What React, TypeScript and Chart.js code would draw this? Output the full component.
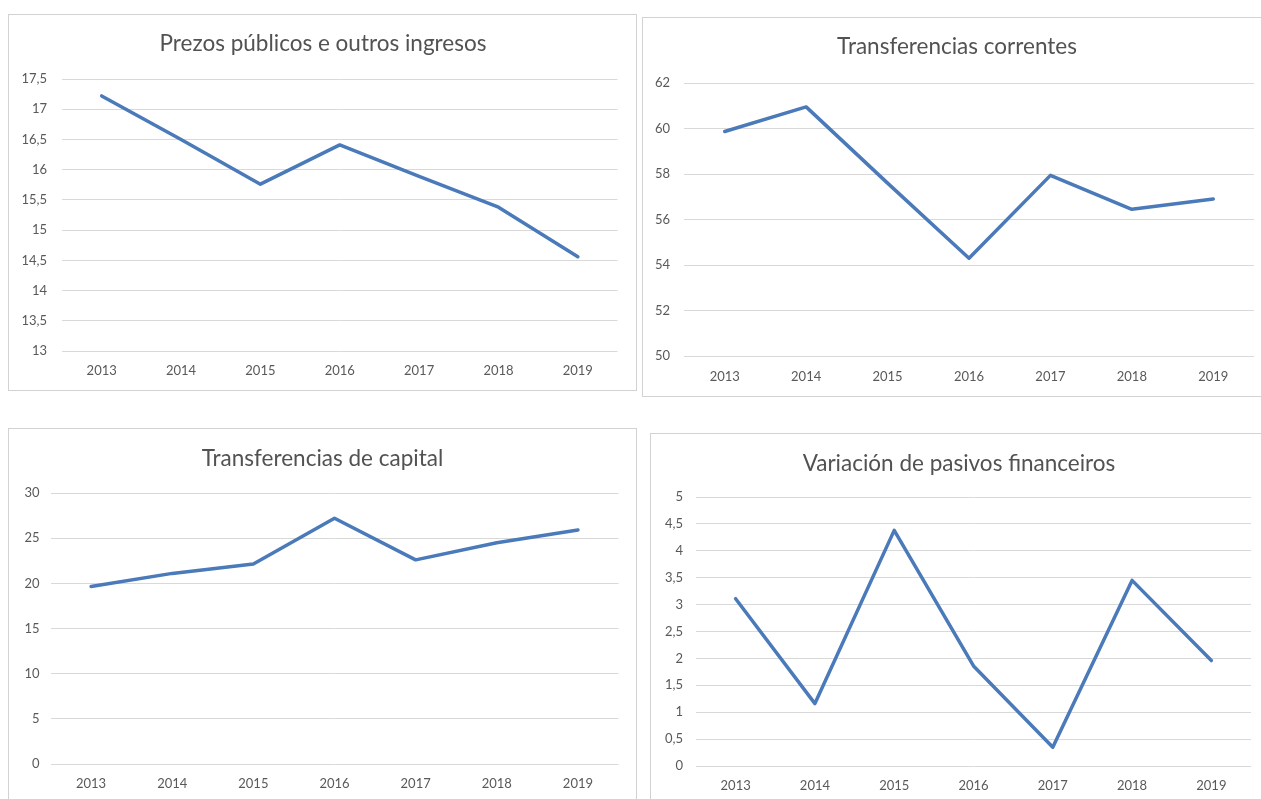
import React, { useEffect, useRef } from "react";
import { Chart, registerables } from "chart.js";

Chart.register(...registerables);

const years = ["2013", "2014", "2015", "2016", "2017", "2018", "2019"];

const prezosPublicos = [17.22, 16.5, 15.76, 16.41, 15.89, 15.38, 14.56];
const transferenciasCorrentes = [59.87, 60.95, 57.6, 54.3, 57.94, 56.45, 56.9];
const transferenciasCapital = [19.65, 21.1, 22.15, 27.2, 22.6, 24.5, 25.9];
const pasivosFinanceiros = [3.11, 1.16, 4.38, 1.86, 0.35, 3.45, 1.96];

const titles = [
  "Prezos públicos e outros ingresos",
  "Transferencias correntes",
  "Transferencias de capital",
  "Variación de pasivos financeiros",
];

const FONT = "Lato, 'Open Sans', sans-serif";
const LINE_COLOR = "#4a7ab9";
const GRID_COLOR = "#d9d9d9";
const TEXT_COLOR = "#595959";

type PanelSpec = {
  title: string;
  data: number[];
  min: number;
  max: number;
  step: number;
  L: number;
  T: number;
  W: number;
  H: number;
  padLeft: number;
  padRight: number;
  yWidth: number;
  y2Width: number;
  xHeight: number;
  titleTop: number;
  titleBottom: number;
  yPad: number;
  xPad: number;
};

const panels: PanelSpec[] = [
  { title: titles[0], data: prezosPublicos, min: 13, max: 17.5, step: 0.5,
    L: 8, T: 14, W: 629, H: 377, padLeft: 2, padRight: 1, yWidth: 52, y2Width: 18.5, xHeight: 40,
    titleTop: 16.5, titleBottom: 21.5, yPad: 15, xPad: 12 },
  { title: titles[1], data: transferenciasCorrentes, min: 50, max: 62, step: 2,
    L: 642, T: 17, W: 630, H: 380, padLeft: 2, padRight: 2, yWidth: 40, y2Width: 16, xHeight: 41,
    titleTop: 16.5, titleBottom: 22.5, yPad: 14, xPad: 13 },
  { title: titles[2], data: transferenciasCapital, min: 0, max: 30, step: 5,
    L: 8, T: 428, W: 629, H: 380, padLeft: 2, padRight: 2, yWidth: 40.5, y2Width: 16.5, xHeight: 44,
    titleTop: 17.5, titleBottom: 20.5, yPad: 11, xPad: 12 },
  { title: titles[3], data: pasivosFinanceiros, min: 0, max: 5, step: 0.5,
    L: 650, T: 433, W: 620, H: 380, padLeft: 2, padRight: 4, yWidth: 44, y2Width: 15, xHeight: 47,
    titleTop: 17.5, titleBottom: 19.5, yPad: 13, xPad: 12 },
];

function Panel({ spec }: { spec: PanelSpec }) {
  const ref = useRef<HTMLCanvasElement | null>(null);
  useEffect(() => {
    if (!ref.current) return;
    const chart = new Chart(ref.current, {
      type: "line",
      data: {
        labels: years,
        datasets: [
          {
            data: spec.data,
            borderColor: LINE_COLOR,
            borderWidth: 3.5,
            pointRadius: 0,
            tension: 0,
            fill: false,
            borderCapStyle: "round",
            borderJoinStyle: "round",
            yAxisID: "y",
          },
        ],
      },
      options: {
        animation: false,
        responsive: false,
        devicePixelRatio: 1,
        layout: { padding: { left: spec.padLeft, right: spec.padRight, top: 0, bottom: 0 } },
        plugins: {
          legend: { display: false },
          tooltip: { enabled: false },
          title: {
            display: true,
            text: spec.title,
            color: "#525252",
            font: { family: FONT, size: 22.5, weight: "normal", lineHeight: 1.2 },
            padding: { top: spec.titleTop, bottom: spec.titleBottom },
          },
        },
        scales: {
          x: {
            type: "category",
            offset: true,
            grid: { display: false, drawTicks: false },
            border: { display: false },
            ticks: {
              color: TEXT_COLOR,
              font: { family: FONT, size: 13 },
              padding: spec.xPad,
              maxRotation: 0,
            },
            afterFit: (s: any) => {
              s.height = spec.xHeight;
            },
          },
          y: {
            position: "left",
            min: spec.min,
            max: spec.max,
            grid: { color: GRID_COLOR, lineWidth: 1, drawTicks: false },
            border: { display: false },
            ticks: {
              stepSize: spec.step,
              color: TEXT_COLOR,
              font: { family: FONT, size: 13 },
              padding: spec.yPad,
              callback: (v: any) => String(Math.round(Number(v) * 100) / 100).replace(".", ","),
            },
            afterFit: (s: any) => {
              s.width = spec.yWidth;
            },
          },
          y2: {
            type: "linear",
            position: "right",
            display: true,
            grid: { display: false, drawTicks: false },
            border: { display: false },
            ticks: { display: false },
            afterFit: (s: any) => {
              s.width = spec.y2Width;
            },
          },
        },
      },
    });
    return () => chart.destroy();
  }, [spec]);

  return (
    <div
      style={{
        position: "absolute",
        left: spec.L,
        top: spec.T,
        width: spec.W,
        height: spec.H,
        background: "#ffffff",
      }}
    >
      <canvas ref={ref} width={spec.W} height={spec.H} style={{ display: "block" }} />
      <div
        style={{
          position: "absolute",
          left: 0,
          top: 0,
          width: spec.W,
          height: spec.H,
          boxSizing: "border-box",
          border: "1px solid #d2d2d2",
          pointerEvents: "none",
        }}
      />
    </div>
  );
}

export default function App() {
  return (
    <div
      style={{
        position: "fixed",
        left: 0,
        top: 0,
        width: 1261,
        height: 799,
        overflow: "hidden",
        background: "#ffffff",
      }}
    >
      {panels.map((p, i) => (
        <Panel key={i} spec={p} />
      ))}
    </div>
  );
}
